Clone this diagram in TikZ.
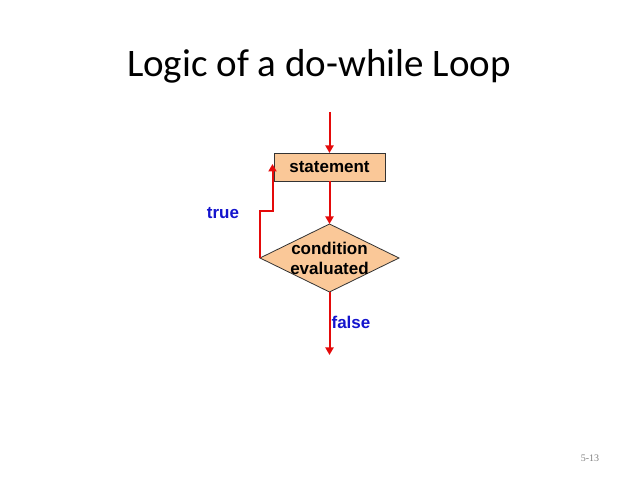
\documentclass[tikz,border=0pt]{standalone}
\usepackage{fontspec}
\setmainfont{Liberation Sans}
\newfontfamily\titlefont{Carlito}
\newfontfamily\pagefont{Liberation Serif}
\usepackage{tikz}
\usetikzlibrary{shapes.geometric, arrows.meta, positioning}
\definecolor{loopred}{RGB}{228,10,10}
\definecolor{boxfill}{RGB}{250,200,152}
\definecolor{labelblue}{RGB}{20,20,205}
\tikzstyle{arrow} = [line width=2pt, draw=loopred, -{Triangle[width=8pt,length=7.5pt]}]

\begin{document}
\begin{tikzpicture}[x=1pt, y=1pt,
            stmtbox/.style={rectangle, minimum width=111pt, minimum height=28pt, draw=black!80, line width=0.8pt, fill=boxfill, outer sep=0pt, font=\bfseries\fontsize{17}{20}\selectfont},
            decision/.style={diamond, minimum width=139pt, minimum height=68pt, inner sep=0pt, draw=black!80, line width=0.8pt, fill=boxfill, outer sep=0pt},
            branch/.style={text=labelblue, font=\bfseries\fontsize{17}{20}\selectfont}]
            \useasboundingbox (0,0) rectangle (638,-478);

            % Title
            \node[anchor=base, font=\titlefont\fontsize{39}{45}\selectfont] (title) at (319,-77) {Logic of a do-while Loop};

            % Flow chart
            \coordinate (start) at (329.5,-112);
            \node[stmtbox, below=41pt of start] (stmt) {statement};
            \node[decision, below=43pt of stmt,
                  label={[align=center, font=\bfseries\fontsize{17}{20}\selectfont]center:condition\\evaluated}] (cond) {};
            \coordinate[below=63pt of cond] (finish);

            % Labels
            \node[branch] (true) at (223,-213) {true};
            \node[branch] (false) at (351,-322) {false};

            % Arrows
            \draw[arrow] (start) -- (stmt);
            \draw[arrow] (stmt) -- (cond);
            \draw[arrow] (cond.west) -- ++(0,47) -| ([xshift=-1.5pt, yshift=3pt]stmt.west);
            \draw[arrow] (cond) -- (finish);

            % Slide number
            \node[text=gray, font=\pagefont\fontsize{10}{12}\selectfont] (page) at (590,-458) {5-13};
        \end{tikzpicture}
\end{document}
